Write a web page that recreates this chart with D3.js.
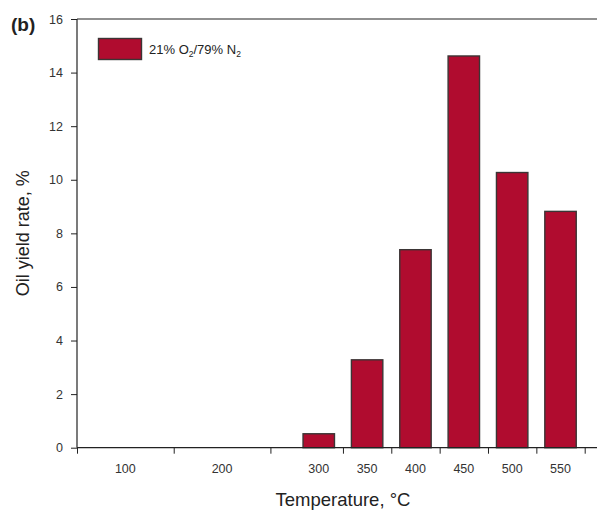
<!DOCTYPE html>
<html>
<head>
<meta charset="utf-8">
<title>Oil yield rate</title>
<script src="https://cdn.jsdelivr.net/npm/d3@7"></script>
<style>
  body { margin: 0; background: #fff; }
  svg text { font-family: "Liberation Sans", Arial, sans-serif; }
</style>
</head>
<body>
<div id="chart"></div>
<script>
// temperature categories and their centre position on the (uneven) x axis
const categories = ["100", "200", "300", "350", "400", "450", "500", "550"]
const catPos = [1, 3, 5, 6, 7, 8, 9, 10]
// bin boundaries where the x tick marks sit
const binEdges = [0, 2, 4, 5.5, 6.5, 7.5, 8.5, 9.5, 10.5]
// oil yield rate, %
const yieldRate = [0, 0, 0.52, 3.28, 7.39, 14.62, 10.27, 8.82]
const yTicks = [0, 2, 4, 6, 8, 10, 12, 14, 16]
const seriesName = "21% O2/79% N2"

const W = 597, H = 510
const padL = 77, padT = 19, padB = 447.7, padR = 584.7

const svg = d3.select("#chart").append("svg")
  .attr("width", W).attr("height", H)

const x = d3.scaleLinear().domain([0, 10.5]).range([padL, padR])
const y = d3.scaleLinear().domain([0, 16]).range([padB, padT])

// bars
const barW = x(0.65) - x(0)
svg.selectAll("rect.bar")
  .data(yieldRate.map((v, i) => ({ v: v, p: catPos[i] })).filter(d => d.v > 0))
  .enter().append("rect")
  .attr("class", "bar")
  .attr("x", d => x(d.p) - barW / 2)
  .attr("width", barW)
  .attr("y", d => y(d.v))
  .attr("height", d => y(0) - y(d.v))
  .attr("fill", "#b00c2f")
  .attr("stroke", "#3b3535")
  .attr("stroke-width", 1.4)

// y axis
const yAxis = svg.append("g")
  .attr("transform", `translate(${padL},0)`)
  .call(d3.axisLeft(y).tickValues(yTicks).tickSize(6).tickPadding(8))
yAxis.select(".domain").remove()
yAxis.selectAll("line").attr("stroke", "#222")
yAxis.selectAll("text").attr("font-size", 12.5).attr("fill", "#333")

// x axis: ticks on bin edges, labels on category centres
const xAxis = svg.append("g")
  .attr("transform", `translate(0,${padB})`)
  .call(d3.axisBottom(x).tickValues(binEdges).tickSize(6).tickFormat(""))
xAxis.select(".domain").remove()
xAxis.selectAll("line").attr("stroke", "#222")

svg.selectAll("text.xlab")
  .data(categories)
  .enter().append("text")
  .attr("class", "xlab")
  .attr("x", (d, i) => x(catPos[i]))
  .attr("y", padB + 25)
  .attr("text-anchor", "middle")
  .attr("font-size", 12.5)
  .attr("fill", "#333")
  .text(d => d)

// spines: left, bottom and top (running out to the edge)
svg.append("line").attr("x1", padL).attr("x2", padL).attr("y1", padT).attr("y2", padB)
  .attr("stroke", "#222").attr("stroke-width", 1.2)
svg.append("line").attr("x1", padL).attr("x2", W).attr("y1", padB).attr("y2", padB)
  .attr("stroke", "#222").attr("stroke-width", 1.2)
svg.append("line").attr("x1", padL).attr("x2", W).attr("y1", padT).attr("y2", padT)
  .attr("stroke", "#222").attr("stroke-width", 1.2)

// axis titles
svg.append("text")
  .attr("x", 343).attr("y", 506)
  .attr("text-anchor", "middle")
  .attr("font-size", 18.5)
  .attr("fill", "#222")
  .text("Temperature, °C")

svg.append("text")
  .attr("transform", `translate(29,${(padT + padB) / 2}) rotate(-90)`)
  .attr("text-anchor", "middle")
  .attr("font-size", 18)
  .attr("fill", "#222")
  .text("Oil yield rate, %")

// panel label
svg.append("text")
  .attr("x", 11).attr("y", 31)
  .attr("font-size", 19)
  .attr("font-weight", "bold")
  .attr("fill", "#222")
  .text("(b)")

// legend
svg.append("rect")
  .attr("x", 98.5).attr("y", 38.5).attr("width", 43).attr("height", 21)
  .attr("fill", "#b00c2f").attr("stroke", "#3b3535").attr("stroke-width", 1.4)

const parts = seriesName.match(/(\d+% O)(2)(\/\d+% N)(2)/)
const leg = svg.append("text")
  .attr("x", 149).attr("y", 54)
  .attr("font-size", 13)
  .attr("fill", "#222")
leg.append("tspan").text(parts[1])
leg.append("tspan").attr("font-size", 8.5).attr("dy", 3).text(parts[2])
leg.append("tspan").attr("dy", -3).text(parts[3])
leg.append("tspan").attr("font-size", 8.5).attr("dy", 3).text(parts[4])
</script>
</body>
</html>
